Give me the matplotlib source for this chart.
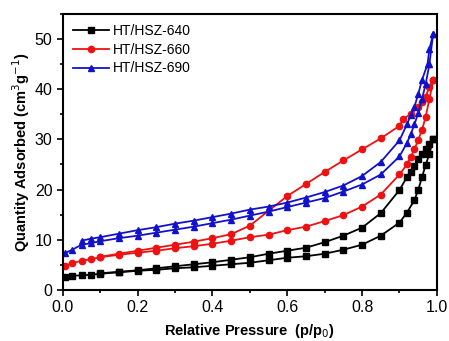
import numpy as np
import matplotlib
matplotlib.use('Agg')
import matplotlib.pyplot as plt
from matplotlib.ticker import MultipleLocator

plt.rcParams['font.family'] = ['Liberation Sans', 'DejaVu Sans']

# HT/HSZ-640
p_640_ads = [0.005, 0.025, 0.05, 0.075, 0.1, 0.15, 0.2, 0.25, 0.3, 0.35, 0.4, 0.45, 0.5, 0.55,
             0.6, 0.65, 0.7, 0.75, 0.8, 0.85, 0.9, 0.92, 0.94, 0.95, 0.96, 0.97, 0.98, 0.99]
q_640_ads = [2.5, 2.8, 2.9, 3.0, 3.2, 3.5, 3.8, 4.0, 4.3, 4.5, 4.8, 5.1, 5.4, 5.9,
             6.4, 6.7, 7.2, 8.0, 9.0, 10.8, 13.4, 15.4, 17.9, 19.9, 22.4, 24.9, 27.1, 30.0]
p_640_des = [0.99, 0.98, 0.97, 0.96, 0.95, 0.94, 0.93, 0.92, 0.9, 0.85, 0.8, 0.75, 0.7, 0.65,
             0.6, 0.55, 0.5, 0.45, 0.4, 0.35, 0.3, 0.25, 0.2, 0.15, 0.1]
q_640_des = [30.0, 29.0, 28.0, 27.0, 26.0, 24.6, 23.5, 22.5, 19.9, 15.3, 12.4, 10.8, 9.5, 8.4,
             7.8, 7.2, 6.5, 6.0, 5.5, 5.1, 4.7, 4.3, 3.9, 3.6, 3.3]

# HT/HSZ-660
p_660_ads = [0.005, 0.025, 0.05, 0.075, 0.1, 0.15, 0.2, 0.25, 0.3, 0.35, 0.4, 0.45, 0.5, 0.55,
             0.6, 0.65, 0.7, 0.75, 0.8, 0.85, 0.9, 0.92, 0.93, 0.94, 0.95, 0.96, 0.97, 0.98, 0.99]
q_660_ads = [4.8, 5.3, 5.8, 6.1, 6.5, 7.0, 7.4, 7.8, 8.3, 8.7, 9.2, 9.8, 10.5, 11.0,
             11.9, 12.6, 13.7, 14.9, 16.6, 19.0, 23.0, 25.0, 26.5, 28.0, 29.9, 31.8, 34.5, 38.0, 41.8]
p_660_des = [0.99, 0.98, 0.97, 0.96, 0.95, 0.93, 0.91, 0.9, 0.85, 0.8, 0.75, 0.7, 0.65, 0.6,
             0.5, 0.45, 0.4, 0.35, 0.3, 0.25, 0.2, 0.15, 0.1]
q_660_des = [41.8, 40.5, 38.5, 37.5, 36.5, 35.0, 34.1, 32.7, 30.2, 28.0, 25.8, 23.5, 21.1, 18.7,
             12.8, 11.1, 10.3, 9.6, 9.0, 8.4, 7.8, 7.2, 6.6]

# HT/HSZ-690
p_690_ads = [0.005, 0.025, 0.05, 0.075, 0.1, 0.15, 0.2, 0.25, 0.3, 0.35, 0.4, 0.45, 0.5, 0.55,
             0.6, 0.65, 0.7, 0.75, 0.8, 0.85, 0.9, 0.92, 0.93, 0.94, 0.95, 0.96, 0.97, 0.98, 0.99]
q_690_ads = [7.3, 8.0, 9.0, 9.3, 9.7, 10.3, 10.8, 11.4, 12.0, 12.6, 13.3, 14.0, 14.8, 15.6,
             16.5, 17.4, 18.3, 19.6, 21.0, 23.0, 26.6, 29.3, 31.0, 33.0, 35.2, 38.0, 41.0, 45.0, 51.0]
p_690_des = [0.99, 0.98, 0.975, 0.96, 0.95, 0.94, 0.93, 0.92, 0.9, 0.85, 0.8, 0.75, 0.7, 0.65,
             0.6, 0.55, 0.5, 0.45, 0.4, 0.35, 0.3, 0.25, 0.2, 0.15, 0.1, 0.075, 0.05]
q_690_des = [51.0, 48.0, 45.0, 41.8, 39.0, 36.5, 34.8, 33.0, 29.8, 25.5, 22.7, 20.8, 19.5, 18.4,
             17.4, 16.6, 16.0, 15.2, 14.5, 13.8, 13.2, 12.5, 11.9, 11.2, 10.5, 10.2, 9.8]

series = [
    ('HT/HSZ-640', 'black', 's', p_640_ads, q_640_ads, p_640_des, q_640_des),
    ('HT/HSZ-660', '#ee1111', 'o', p_660_ads, q_660_ads, p_660_des, q_660_des),
    ('HT/HSZ-690', '#1111cc', '^', p_690_ads, q_690_ads, p_690_des, q_690_des),
]

fig = plt.figure(figsize=(4.49, 3.41), dpi=100)
ax = fig.add_axes([0.140, 0.150, 0.833, 0.809])

for name, c, m, pa, qa, pd, qd in series:
    ax.plot(pa, qa, color=c, marker=m, markersize=4.5, linewidth=1.3, label=name)
    ax.plot(pd, qd, color=c, marker=m, markersize=4.5, linewidth=1.3)

ax.set_xlim(0, 1.0)
ax.set_ylim(0, 55)
ax.xaxis.set_major_locator(MultipleLocator(0.2))
ax.xaxis.set_minor_locator(MultipleLocator(0.1))
ax.yaxis.set_major_locator(MultipleLocator(10))
ax.yaxis.set_minor_locator(MultipleLocator(5))
ax.tick_params(which='both', direction='out', top=False, right=False, labelsize=11.5, width=1.2)
ax.tick_params(which='major', length=4)
ax.tick_params(which='minor', length=2.5)
for s in ax.spines.values():
    s.set_linewidth(1.5)

ax.set_xlabel('Relative Pressure  (p/p$_0$)', fontsize=10.5, fontweight='bold', labelpad=5)
ax.set_ylabel('Quantity Adsorbed (cm$^3$g$^{-1}$)', fontsize=10.5, fontweight='bold', labelpad=2)

ax.legend(loc='upper left', frameon=False, fontsize=10, handlelength=2.6,
          borderaxespad=0.3, labelspacing=0.35, handletextpad=0.3)

fig.savefig('out.png', dpi=100)
